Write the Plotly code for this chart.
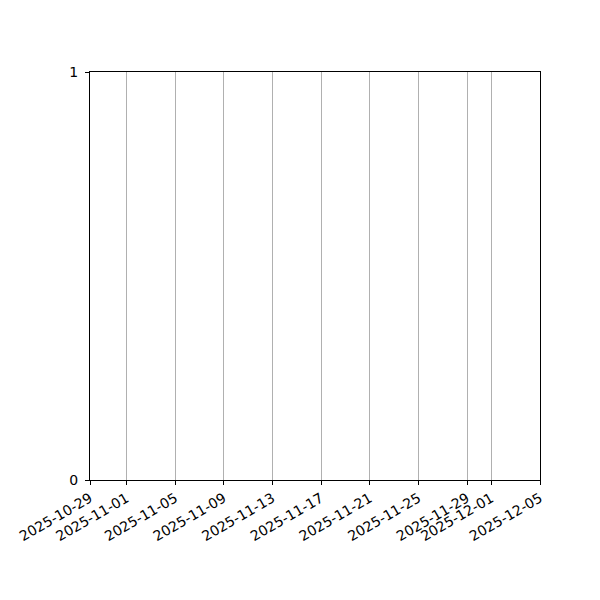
import plotly.graph_objects as go

# empty series - the chart has no data marks
dates = []
values = []

x_start = "2025-10-29"
x_end = "2025-12-05"
tick_dates = [
    "2025-10-29", "2025-11-01", "2025-11-05", "2025-11-09", "2025-11-13",
    "2025-11-17", "2025-11-21", "2025-11-25", "2025-11-29", "2025-12-01",
    "2025-12-05",
]
y_ticks = [0, 1]

fig = go.Figure()
fig.add_trace(go.Scatter(x=dates, y=values, mode="lines", showlegend=False))

axis_common = dict(
    showline=True, linecolor="black", linewidth=1, mirror=True,
    ticks="outside", ticklen=4, tickcolor="black", tickwidth=1,
    zeroline=False,
)

# page body has an 8px margin, so the plot margins are shifted by 8
fig.update_layout(
    width=600, height=600,
    margin=dict(l=82, r=68, t=64, b=128, autoexpand=False),
    plot_bgcolor="white", paper_bgcolor="white",
    font=dict(family="DejaVu Sans", size=14, color="black"),
    xaxis=dict(
        type="date", range=[x_start, x_end],
        tickmode="array", tickvals=tick_dates, ticktext=tick_dates,
        tickangle=-30, showgrid=True, gridcolor="#b0b0b0", gridwidth=1,
        **axis_common,
    ),
    yaxis=dict(
        range=[0, 1], tickmode="array", tickvals=y_ticks,
        ticktext=[str(v) for v in y_ticks], showgrid=False,
        ticklabelstandoff=4,
        **axis_common,
    ),
)

fig.write_html("out.html")
